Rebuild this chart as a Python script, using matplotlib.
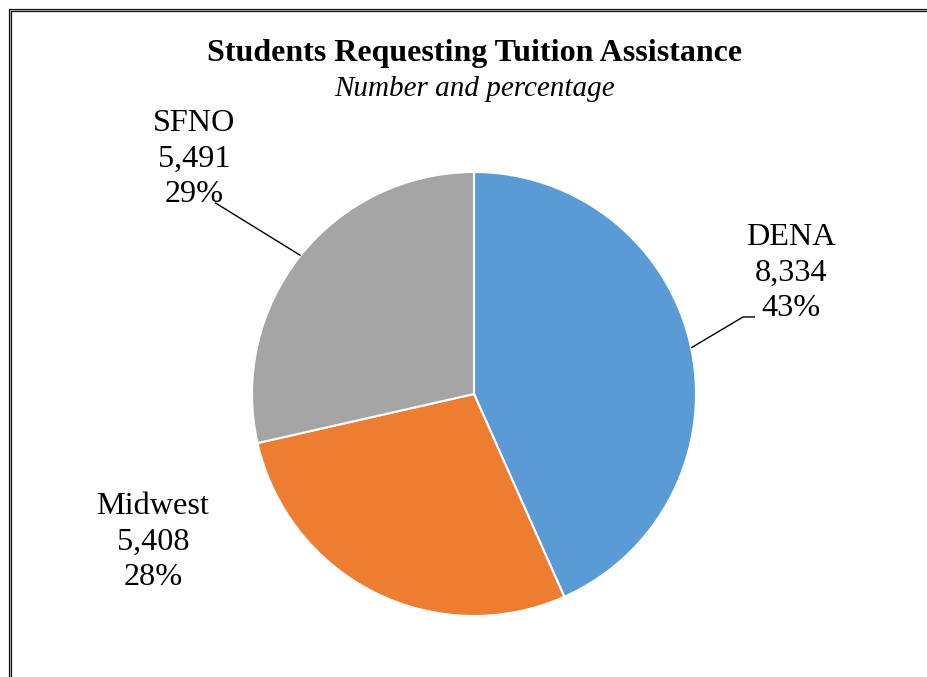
import matplotlib
matplotlib.use("Agg")
import matplotlib.pyplot as plt
from matplotlib.patches import Rectangle
import numpy as np

categories = ["DENA", "Midwest", "SFNO"]
values = [8334, 5408, 5491]
colors = ["#5B9BD5", "#ED7D31", "#A5A5A5"]
title = "Students Requesting Tuition Assistance"
subtitle = "Number and percentage"

W, H = 927, 677
fig = plt.figure(figsize=(W / 100, H / 100), dpi=100)
fig.patch.set_facecolor("white")

# frame border (double line), extends beyond right/bottom
def px_rect(x0, y0, lw, color):
    r = Rectangle((x0 / W, -0.2), 1.5, (H - y0) / H + 0.2, transform=fig.transFigure,
                  fill=False, edgecolor=color, linewidth=lw, zorder=0)
    fig.add_artist(r)

px_rect(10.2, 10.2, 3.2 * 0.72, "black")
px_rect(10.2, 10.2, 1.2 * 0.72, "#A0A0A0")

cx, cy, R = 474, 394, 222
ax = fig.add_axes([(cx - R) / W, (H - cy - R) / H, 2 * R / W, 2 * R / H])
wedges, _ = ax.pie(values, colors=colors, startangle=90, counterclock=False,
                   radius=1, wedgeprops=dict(edgecolor="white", linewidth=1.5))
ax.set_xlim(-1, 1)
ax.set_ylim(-1, 1)
ax.set_aspect("equal")
ax.axis("off")

total = sum(values)
serif = ["Liberation Serif", "DejaVu Serif"]
label_pos = {"DENA": (1.428, 0.545), "Midwest": (-1.446, -0.668), "SFNO": (-1.261, 1.058)}
elbows = {"DENA": [(1.212, 0.347), (1.266, 0.347)], "SFNO": [(-1.167, 0.862)]}

for w, cat, v in zip(wedges, categories, values):
    pct = v / total * 100
    txt = f"{cat}\n{v:,}\n{pct:.0f}%"
    tx, ty = label_pos[cat]
    ax.text(tx, ty, txt, ha="center", va="center", fontsize=23.2, family=serif,
            linespacing=1.3, clip_on=False)
    if cat in elbows:
        mid = np.deg2rad((w.theta1 + w.theta2) / 2)
        pts = [(np.cos(mid), np.sin(mid))] + elbows[cat]
        xs, ys = zip(*pts)
        ax.plot(xs, ys, color="black", lw=1.0, clip_on=False, solid_capstyle="butt")

fig.text(474.5 / W, 1 - 53 / H, title, ha="center", va="center", fontsize=23,
         fontweight="bold", family=serif)
fig.text(474.5 / W, 1 - 89 / H, subtitle, ha="center", va="center", fontsize=21,
         style="italic", family=serif)

fig.savefig("out.png", dpi=100, facecolor="white")
